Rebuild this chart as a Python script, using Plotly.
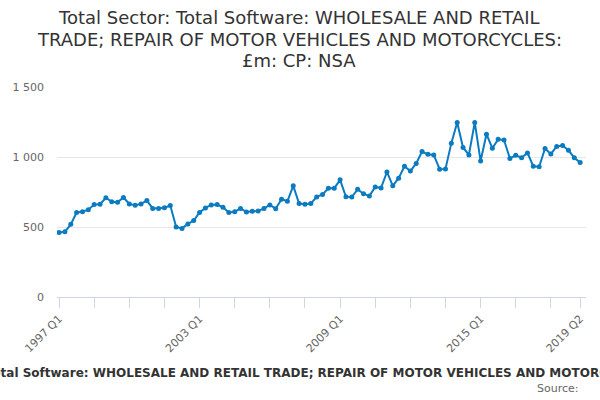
import plotly.graph_objects as go

# Quarterly periods 1997 Q1 .. 2019 Q2
quarters = [f"{y} Q{q}" for y in range(1997, 2020) for q in range(1, 5)][:90]

values = [
    461, 466, 519, 604, 609, 624, 660, 663, 709, 680,
    677, 711, 665, 655, 665, 689, 633, 633, 638, 653,
    500, 490, 522, 546, 604, 636, 658, 660, 641, 604,
    609, 633, 607, 612, 614, 633, 658, 631, 699, 684,
    794, 668, 663, 667, 715, 733, 777, 777, 837, 716,
    714, 769, 738, 721, 786, 779, 893, 794, 849, 934,
    900, 954, 1039, 1019, 1015, 913, 915, 1099, 1247, 1068,
    1015, 1247, 971, 1163, 1063, 1126, 1121, 990, 1012, 995,
    1029, 934, 930, 1061, 1022, 1075, 1082, 1048, 995, 961,
]

tick_quarters = quarters[::6] + ["2019 Q2"]
labelled = ["1997 Q1", "2003 Q1", "2009 Q1", "2015 Q1", "2019 Q2"]
tick_text = [q if q in labelled else "" for q in tick_quarters]

title_lines = [
    "Total Sector: Total Software: WHOLESALE AND RETAIL",
    "TRADE; REPAIR OF MOTOR VEHICLES AND MOTORCYCLES:",
    "£m: CP: NSA",
]
axis_title = ("Total Sector: Total Software: WHOLESALE AND RETAIL TRADE; "
              "REPAIR OF MOTOR VEHICLES AND MOTORCYCLES: £m: CP: NSA")

line_color = "#0b7bc1"

W, H = 600, 400
L, R, T, B = 57, 14, 87, 103
plot_h = H - T - B

fig = go.Figure()
fig.add_trace(go.Scatter(
    x=quarters, y=values, mode="lines+markers",
    line=dict(color=line_color, width=2),
    marker=dict(color=line_color, size=5),
    showlegend=False,
))

fig.update_layout(
    width=W, height=H,
    margin=dict(l=L, r=R, t=T, b=B),
    paper_bgcolor="white", plot_bgcolor="white",
    font=dict(family="DejaVu Sans", color="#666666", size=11),
    separators=". ",
)

fig.update_xaxes(
    type="category", range=[-0.35, 90.0], automargin=False,
    tickmode="array", tickvals=tick_quarters, ticktext=tick_text,
    tickangle=-45, ticks="outside", ticklen=10, tickcolor="#ccd6eb",
    showline=True, linecolor="#ccd6eb", linewidth=1,
    showgrid=False, tickfont=dict(size=11, color="#666666"),
)
fig.update_yaxes(
    range=[0, 1500], tickvals=[0, 500, 1000, 1500], automargin=False,
    separatethousands=True, showgrid=True, gridcolor="#e6e6e6",
    zeroline=False, ticks="", ticklabelstandoff=12,
    tickfont=dict(size=11, color="#666666"),
)

# chart title, one annotation per line for tighter line spacing
for i, line in enumerate(title_lines):
    centre = 17.5 + i * 21.7
    fig.add_annotation(
        text=line, xref="paper", yref="paper",
        x=0.4575, y=1 + (T - centre) / plot_h,
        xanchor="center", yanchor="middle", showarrow=False,
        font=dict(size=18, color="#333333", family="DejaVu Sans"),
    )

fig.add_annotation(
    text="<b>" + axis_title + "</b>", xref="paper", yref="paper",
    x=0.498, y=-0.364, xanchor="center", yanchor="middle", showarrow=False,
    font=dict(size=12, color="#333333", family="DejaVu Sans"),
)
fig.add_annotation(
    text="Source:", xref="paper", yref="paper",
    x=0.991, y=-0.438, xanchor="right", yanchor="middle", showarrow=False,
    font=dict(size=11, color="#666666", family="DejaVu Sans"),
)

# drop the default page margin so the figure fills the window exactly
fig.write_html("out.html", config={"displayModeBar": False},
               post_script="document.body.style.margin = '0';")
